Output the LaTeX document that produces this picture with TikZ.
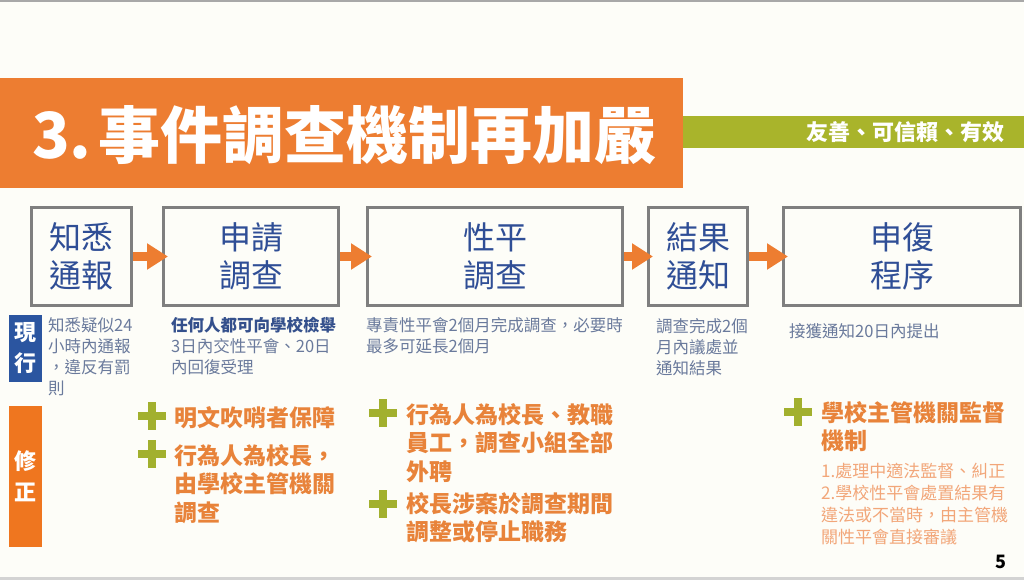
\documentclass[tikz,border=0pt]{standalone}
\usepackage{fontspec}
\setmainfont[Script=CJK, Language=Chinese Traditional]{Noto Sans CJK TC}
\usetikzlibrary{arrows.meta}
\definecolor{paper}{HTML}{FDFDF8}
\definecolor{framegray}{HTML}{A8A8A8}
\definecolor{titleorange}{HTML}{ED7D31}
\definecolor{mottogreen}{HTML}{A9B42B}
\definecolor{boxgray}{HTML}{7F7F7F}
\definecolor{boxblue}{HTML}{2F4E96}
\definecolor{tagblue}{HTML}{2B55A0}
\definecolor{tagorange}{HTML}{EF761F}
\definecolor{nowgray}{HTML}{6A7A9C}
\definecolor{nowblue}{HTML}{34508C}
\definecolor{addorange}{HTML}{E8833A}
\definecolor{noteorange}{HTML}{F2A679}
\definecolor{plusgreen}{HTML}{A2B02E}

\begin{document}
\begin{tikzpicture}[x=1pt, y=-1pt,
	box/.style={draw=boxgray, line width=3pt, fill=paper, text=boxblue, align=center, font=\fontsize{32}{38}\selectfont},
	flow/.style={draw=titleorange, line width=9pt, -{Triangle[length=21pt,width=25pt]}, shorten >=-6pt},
	tag/.style={text=white, align=center, minimum width=33pt, inner sep=0pt, font=\fontsize{22}{31}\selectfont\bfseries},
	now/.style={anchor=north west, inner sep=0pt, align=left, text=nowgray, font=\fontsize{16.5}{21}\selectfont},
	add/.style={anchor=north west, inner sep=0pt, align=left, text=addorange, font=\fontsize{23}{28.5}\selectfont\bfseries},
	note/.style={anchor=north west, inner sep=0pt, align=left, text=noteorange, font=\fontsize{17}{22}\selectfont},
	plusmark/.style={draw=plusgreen, line width=8pt}]
	\fill[paper] (0,0) rectangle (1024,580);
	\useasboundingbox (0,0) rectangle (1024,580);
	\fill[framegray] (0,0) rectangle (1024,2);
	\fill[framegray!50] (0,577) rectangle (1024,580);
	\fill[titleorange] (0,78) rectangle (683,188);
	\fill[mottogreen] (683,116) rectangle (1024,148);
	\node[anchor=west, inner sep=0pt, text=white, font=\fontsize{62}{62}\selectfont\bfseries] (title) at (32,135) {3.\hspace{7pt}事件調查機制再加嚴};
	\node[anchor=east, inner sep=0pt, text=white, font=\fontsize{22}{22}\selectfont\bfseries] (motto) at (1005,132) {友善、可信賴、有效};
	\node[box, minimum width=100pt, minimum height=98pt] (zhixi) at (81.5,256.5) {知悉\\通報};
	\node[box, minimum width=175pt, minimum height=98pt] (shenqing) at (251,256.5) {申請\\調查};
	\node[box, minimum width=255pt, minimum height=98pt] (xingping) at (495,256.5) {性平\\調查};
	\node[box, minimum width=99pt, minimum height=98pt] (jieguo) at (698,256.5) {結果\\通知};
	\node[box, minimum width=237pt, minimum height=98pt] (shenfu) at (902,256.5) {申復\\程序};
	\foreach \a/\b in {zhixi/shenqing, shenqing/xingping, xingping/jieguo, jieguo/shenfu}
		\draw[flow] (\a) -- (\b);
	\node[tag, fill=tagblue, minimum height=67pt] (xianxing) at (25.5,348.5) {現\\行};
	\node[tag, fill=tagorange, minimum height=141pt] (xiuzheng) at (25.5,476.5) {修\\正};
	\node[now] (now1) at (48,317) {知悉疑似24\\小時內通報\\，違反有罰\\則};
	\node[now] (now2) at (171,317) {\textcolor{nowblue}{\bfseries 任何人都可向學校檢舉}\\3日內交性平會、20日\\內回復受理};
	\node[now] (now3) at (366,317) {專責性平會2個月完成調查，必要時\\最多可延長2個月};
	\node[now] (now4) at (656,318) {調查完成2個\\月內議處並\\通知結果};
	\node[now] (now5) at (789,323) {接獲通知20日內提出};
	\foreach \x/\y in {152/416, 152/454, 383/413, 383/504, 798/412} {
		\draw[plusmark] (\x-14,\y) -- (\x+14,\y);
		\draw[plusmark] (\x,\y-14) -- (\x,\y+14);
	}
	\node[add] (add1) at (174,406) {明文吹哨者保障};
	\node[add] (add2) at (174,444) {行為人為校長，\\由學校主管機關\\調查};
	\node[add] (add3) at (406,403) {行為人為校長、教職\\員工，調查小組全部\\外聘};
	\node[add] (add4) at (406,492) {校長涉案於調查期間\\調整或停止職務};
	\node[add] (add5) at (821,401) {學校主管機關監督\\機制};
	\node[note] (note5) at (821,463) {1.處理中適法監督、糾正\\2.學校性平會處置結果有\\違法或不當時，由主管機\\關性平會直接審議};
	\node[font=\fontsize{18}{18}\selectfont\bfseries] (page) at (1001,562) {5};
\end{tikzpicture}
\end{document}
